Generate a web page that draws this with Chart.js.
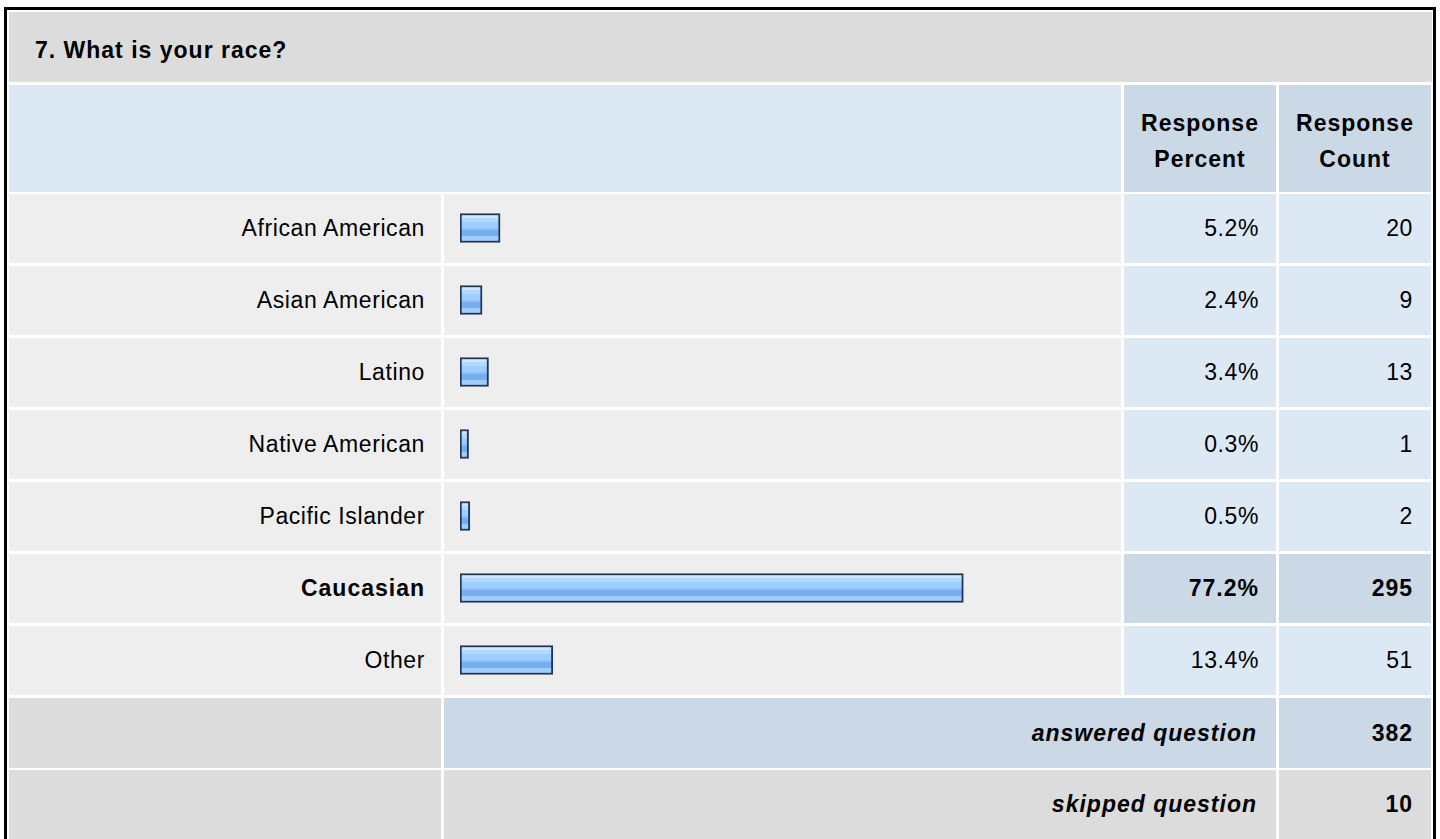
<!DOCTYPE html>
<html>
<head>
<meta charset="utf-8">
<script src="https://cdn.jsdelivr.net/npm/chart.js@4/dist/chart.umd.min.js"></script>
<style>
  html, body { margin: 0; padding: 0; background: #ffffff; width: 1440px; height: 839px; overflow: hidden; }
  body { font-family: "Liberation Sans", Arial, Helvetica, sans-serif; position: relative; }
  .frame { position: absolute; left: 4px; top: 7px; width: 1426px; height: 850px; border: 3px solid #000; border-bottom: none; background: #fff; }
  .cell { position: absolute; box-sizing: border-box; display: flex; align-items: center; font-size: 23px; letter-spacing: 0.6px; color: #000; }
  .r { justify-content: flex-end; }
  .c { justify-content: center; text-align: center; }
  .b { font-weight: bold; letter-spacing: 1px; }
  .i { font-style: italic; }
  #chartWrap { position: absolute; left: 444px; top: 192px; width: 677px; height: 504px; }
</style>
</head>
<body>
<div class="frame"></div>
<div id="table"></div>
<div id="chartWrap"><canvas id="c"></canvas></div>
<script>
// ---- data ----
const questionTitle = "7. What is your race?";
const categories = ["African American", "Asian American", "Latino", "Native American", "Pacific Islander", "Caucasian", "Other"];
const responsePercent = [5.2, 2.4, 3.4, 0.3, 0.5, 77.2, 13.4];
const percentLabels = ["5.2%", "2.4%", "3.4%", "0.3%", "0.5%", "77.2%", "13.4%"];
const responseCount = [20, 9, 13, 1, 2, 295, 51];
const highlightIndex = [5];
const answeredCount = 382;
const skippedCount = 10;
const headerLabels = ["Response<br>Percent", "Response<br>Count"];

// ---- table layout ----
const T = document.getElementById('table');
function cell(x, y, w, h, bg, html, cls) {
  const d = document.createElement('div');
  d.className = 'cell ' + (cls || '');
  d.style.left = x + 'px'; d.style.top = y + 'px';
  d.style.width = w + 'px'; d.style.height = h + 'px';
  d.style.background = bg;
  if (html !== undefined) d.innerHTML = html;
  T.appendChild(d);
  return d;
}
const GRAY = '#dcdcdc', LBLUE = '#dde8f5', MBLUE = '#cbd8e6', ROW = '#eeeeee';
const t = cell(9, 12, 1423, 70, GRAY, questionTitle, 'b');
t.style.paddingLeft = '26px'; t.style.paddingTop = '6px';
cell(9, 85, 1112, 107, LBLUE);
const h1 = cell(1124, 85, 152, 107, MBLUE, headerLabels[0], 'b c'); h1.style.lineHeight = '36px'; h1.style.paddingTop = '4px';
const h2 = cell(1279, 85, 152, 107, MBLUE, headerLabels[1], 'b c'); h2.style.lineHeight = '36px'; h2.style.paddingTop = '4px';

categories.forEach((name, i) => {
  const y = 194 + 72 * i;
  const hi = highlightIndex.includes(i);
  const l = cell(9, y, 432, 69, ROW, name, 'r' + (hi ? ' b' : ''));
  l.style.paddingRight = '16px';
  cell(444, y, 677, 69, ROW);
  const p = cell(1124, y, 152, 69, hi ? MBLUE : LBLUE, percentLabels[i], 'r' + (hi ? ' b' : ''));
  p.style.paddingRight = '17px';
  const n = cell(1279, y, 152, 69, hi ? MBLUE : LBLUE, String(responseCount[i]), 'r' + (hi ? ' b' : ''));
  n.style.paddingRight = '18px';
});
cell(9, 698, 432, 70, GRAY);
const a = cell(444, 698, 832, 70, MBLUE, 'answered question', 'r b i'); a.style.paddingRight = '19px';
const ac = cell(1279, 698, 152, 70, MBLUE, String(answeredCount), 'r b'); ac.style.paddingRight = '18px';
cell(9, 770, 432, 80, GRAY);
const s = cell(444, 770, 832, 69, GRAY, 'skipped question', 'r b i'); s.style.paddingRight = '19px';
const sc = cell(1279, 770, 152, 69, GRAY, String(skippedCount), 'r b'); sc.style.paddingRight = '18px';

// ---- chart ----
const BAR_T = 29;
const AXIS_MIN = -1.03;
function barFill(ctx) {
  const chart = ctx.chart;
  const ys = chart.scales && chart.scales.y;
  if (!ys || ctx.dataIndex === undefined) return '#9ccbff';
  const cy = ys.getPixelForValue(ctx.dataIndex);
  if (!isFinite(cy)) return '#9ccbff';
  const top = cy - BAR_T / 2;
  const g = chart.ctx.createLinearGradient(0, top, 0, top + BAR_T);
  const stops = [
    [0.00, '#cfe6ff'], [0.17, '#cfe6ff'],
    [0.17, '#b1d8ff'], [0.30, '#b1d8ff'],
    [0.30, '#9ecdff'], [0.50, '#9ecdff'],
    [0.50, '#8fc1f8'], [0.56, '#8fc1f8'],
    [0.56, '#76adf0'], [0.76, '#76adf0'],
    [0.76, '#9dcafb'], [1.00, '#a6d0fd']
  ];
  stops.forEach(s => g.addColorStop(s[0], s[1]));
  return g;
}
new Chart(document.getElementById('c'), {
  type: 'bar',
  data: {
    labels: categories,
    datasets: [{
      data: responsePercent,
      base: AXIS_MIN,
      backgroundColor: barFill,
      borderColor: '#1e3658',
      borderWidth: 2,
      borderSkipped: false,
      barThickness: BAR_T
    }]
  },
  options: {
    indexAxis: 'y',
    responsive: true,
    maintainAspectRatio: false,
    animation: false,
    events: [],
    layout: { padding: { left: 16, right: 11, top: 0, bottom: 0 } },
    plugins: { legend: { display: false }, tooltip: { enabled: false } },
    scales: {
      x: { display: false, min: AXIS_MIN, max: 100 },
      y: { display: false, offset: true }
    }
  }
});
</script>
</body>
</html>
